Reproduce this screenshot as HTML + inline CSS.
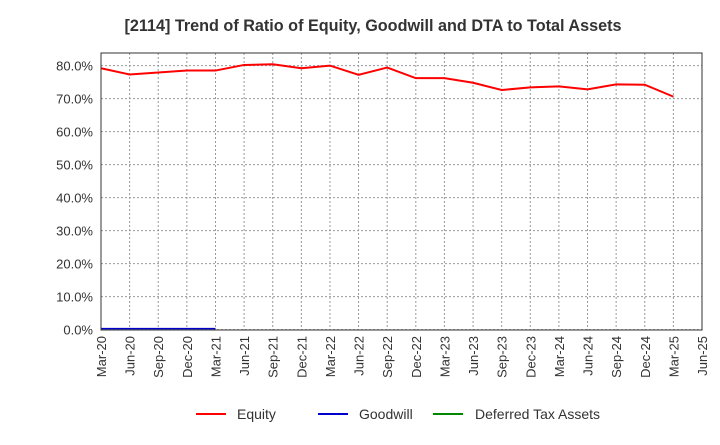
<!DOCTYPE html>
<html><head><meta charset="utf-8"><style>
body{margin:0;background:#fff;font-family:"Liberation Sans",sans-serif}
</style></head><body>
<svg width="720" height="440" xmlns="http://www.w3.org/2000/svg">
<text x="373" y="31" text-anchor="middle" font-size="16.2" font-weight="bold" fill="#333">[2114]  Trend of Ratio of Equity, Goodwill and DTA to Total Assets</text>
<g id="grid"></g><g id="axes"></g><g id="series"></g>
<rect x="101" y="53" width="601" height="277" fill="none" stroke="#333"/>
<g font-size="14" fill="#333">
<line x1="196" y1="414" x2="226" y2="414" stroke="#f00" stroke-width="2"/><text x="237" y="419">Equity</text>
<line x1="318" y1="414" x2="348" y2="414" stroke="#00c" stroke-width="2"/><text x="359" y="419">Goodwill</text>
<line x1="433" y1="414" x2="463" y2="414" stroke="#080" stroke-width="2"/><text x="475" y="419">Deferred Tax Assets</text>
</g>
</svg>
<script>
const categories=["Mar-20","Jun-20","Sep-20","Dec-20","Mar-21","Jun-21","Sep-21","Dec-21","Mar-22","Jun-22","Sep-22","Dec-22","Mar-23","Jun-23","Sep-23","Dec-23","Mar-24","Jun-24","Sep-24","Dec-24","Mar-25","Jun-25"];
const equity=[79.2,77.3,77.9,78.5,78.5,80.2,80.4,79.2,80.0,77.2,79.4,76.2,76.2,74.8,72.6,73.4,73.7,72.8,74.3,74.2,70.6];
const goodwill=[0.3,0.3,0.3,0.3,0.3];
const dta=[];
const yTicks=[0,10,20,30,40,50,60,70,80];
const NS="http://www.w3.org/2000/svg";
const x0=101,x1=702,y0=329.6,pxPer=3.3;
const xs=i=>x0+i*(x1-x0)/(categories.length-1);
const ys=v=>y0-v*pxPer;
function mk(t,a,p){const e=document.createElementNS(NS,t);for(const k in a)e.setAttribute(k,a[k]);p.appendChild(e);return e;}
const grid=document.getElementById('grid'),axes=document.getElementById('axes'),ser=document.getElementById('series');
yTicks.forEach(v=>{
const l=mk('line',{x1:x0,x2:x1,y1:ys(v),y2:ys(v),stroke:'#999','stroke-dasharray':'2,2'},grid);


const t=mk('text',{x:93,y:ys(v)+5,'text-anchor':'end','font-size':13,fill:'#333'},axes);
t.textContent=v.toFixed(1)+'%';


});
categories.forEach((c,i)=>{
const x=xs(i);
const l=mk('line',{x1:x,x2:x,y1:53,y2:330,stroke:'#999','stroke-dasharray':'2,2'},grid);


const t=mk('text',{x:0,y:0,'text-anchor':'end','font-size':13,fill:'#333',transform:`translate(${x+5},336) rotate(-90)`},axes);
t.textContent=c;


});
function line(arr,color,name,w){
if(!arr.length)return;
const p=mk('polyline',{points:arr.map((v,i)=>xs(i)+','+ys(v)).join(' '),fill:'none',stroke:color,'stroke-width':w},ser);


}
line(equity,'#f00','equity-line',2);
line(goodwill,'#00c','goodwill-line',1.5);
line(dta,'#080','dta-line',2);
</script>
</body></html>
